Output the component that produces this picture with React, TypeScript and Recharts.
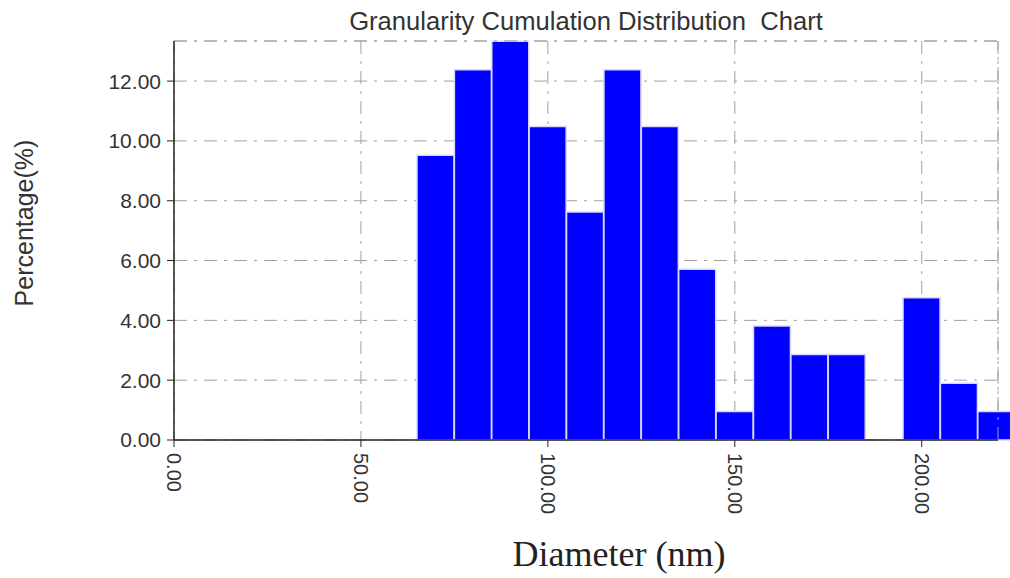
import React from 'react';
import { BarChart, Bar, XAxis, YAxis, CartesianGrid, ReferenceLine } from 'recharts';

// bin centres (nm), each bin 10 nm wide
const binCenters = [70, 80, 90, 100, 110, 120, 130, 140, 150, 160, 170, 180, 190, 200, 210, 220];
const percentages = [9.52, 12.38, 13.33, 10.48, 7.62, 12.38, 10.48, 5.71, 0.95, 3.81, 2.86, 2.86, 0, 4.76, 1.9, 0.95];
const xTicks = [0, 50, 100, 150, 200];
const yTicks = [0, 2, 4, 6, 8, 10, 12];
const X_MAX = 220.4;
const Y_MAX = 13.34;

const data = binCenters.map((d, i) => ({ diameter: d, pct: percentages[i] }));

const SANS = '"Liberation Sans", Arial, sans-serif';
const GRID = '#a0a0a0';
const DASH = '13 7 3 7';

const XTick = ({ x, y, payload }: any) => (
  <text
    x={x}
    y={y}
    transform={`rotate(90 ${x} ${y})`}
    textAnchor="start"
    dominantBaseline="central"
    fontFamily={SANS}
    fontSize={20}
    fill="#333"
  >
    {Number(payload.value).toFixed(2)}
  </text>
);

export default function App() {
  return (
    <div style={{ position: 'absolute', left: 0, top: 0, width: 1010, height: 578, background: '#fff' }}>
      <div
        style={{
          position: 'absolute',
          left: 174,
          width: 824,
          top: 6,
          textAlign: 'center',
          fontFamily: SANS,
          fontSize: 25.6,
          lineHeight: '30px',
          color: '#333',
          whiteSpace: 'pre',
        }}
      >
        {'Granularity Cumulation Distribution  Chart'}
      </div>
      <BarChart
        width={1010}
        height={578}
        data={data}
        margin={{ top: 41, right: 12, bottom: 0, left: 0 }}
        barCategoryGap={0}
        barGap={0}
      >
        <CartesianGrid stroke={GRID} strokeDasharray={DASH} />
        <ReferenceLine y={Y_MAX} stroke={GRID} strokeDasharray={DASH} />
        <ReferenceLine x={X_MAX} stroke={GRID} strokeDasharray={DASH} />
        <XAxis
          dataKey="diameter"
          type="number"
          domain={[0, X_MAX]}
          ticks={xTicks}
          interval={0}
          height={138}
          tickSize={7}
          tickMargin={6}
          axisLine={{ stroke: '#222', strokeWidth: 1.5 }}
          tickLine={{ stroke: '#222' }}
          tick={<XTick />}
          label={({ viewBox }: any) => (
            <text
              x={viewBox.x + viewBox.width / 2 + 33}
              y={viewBox.y + 126}
              textAnchor="middle"
              fontFamily='"Liberation Serif", "Times New Roman", serif'
              fontSize={36}
              fill="#222"
            >
              Diameter (nm)
            </text>
          )}
        />
        <YAxis
          type="number"
          domain={[0, Y_MAX]}
          ticks={yTicks}
          interval={0}
          width={174}
          tickSize={7}
          tickMargin={6}
          tickFormatter={(v: number) => v.toFixed(2)}
          axisLine={{ stroke: '#222', strokeWidth: 1.5 }}
          tickLine={{ stroke: '#222' }}
          tick={{ fontFamily: SANS, fontSize: 21, fill: '#333' }}
          label={({ viewBox }: any) => (
            <text
              x={viewBox.x + 24}
              y={viewBox.y + 182}
              transform={`rotate(-90 ${viewBox.x + 24} ${viewBox.y + 182})`}
              textAnchor="middle"
              dominantBaseline="central"
              fontFamily={SANS}
              fontSize={25}
              fill="#333"
            >
              Percentage(%)
            </text>
          )}
        />
        <Bar dataKey="pct" fill="#0000ff" stroke="#d8d8ff" strokeWidth={1.5} isAnimationActive={false} />
      </BarChart>
    </div>
  );
}
